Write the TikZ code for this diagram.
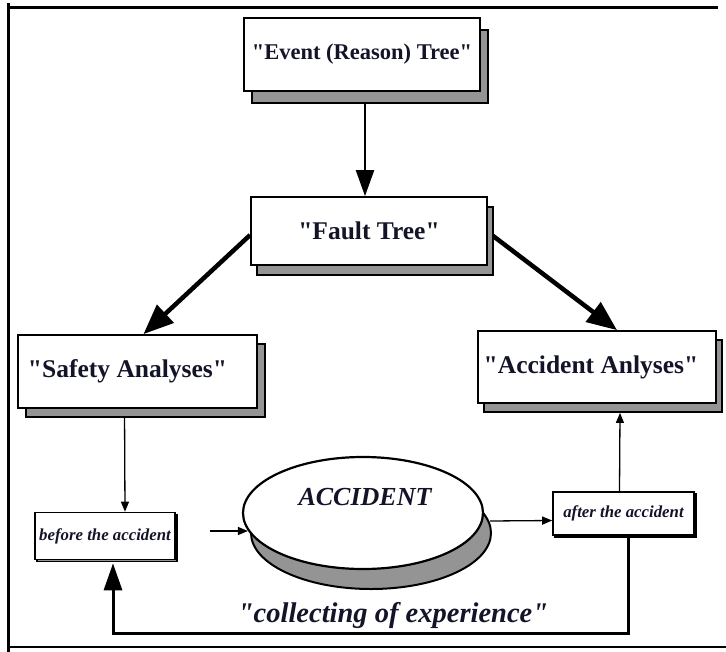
\documentclass[tikz,border=0pt]{standalone}
\usepackage{fontspec}
\setmainfont{Liberation Serif}[Ligatures=TeXOff]
\usetikzlibrary{arrows.meta,shapes.geometric,shadows,backgrounds}

\definecolor{inkdark}{rgb}{0.08,0.08,0.16}
\definecolor{shadegray}{gray}{0.58}

\tikzset{
  frameline/.style={line width=3pt, line cap=rect},
  titlebox/.style={draw, line width=1.8pt, fill=white, inner sep=0pt,
    text=inkdark, font=\bfseries\fontsize{25.5}{30}\selectfont},
  smallbox/.style={draw, line width=1.6pt, fill=white, inner sep=0pt,
    text=inkdark, font=\bfseries\itshape\fontsize{16.8}{20}\selectfont},
  boxshade/.style 2 args={copy shadow={shadow xshift=#1, shadow yshift=#2,
    fill=shadegray, draw=black, line width=1.2pt}},
  disc/.style={ellipse, draw, line width=2.2pt, fill=white, inner sep=0pt,
    copy shadow={shadow xshift=8pt, shadow yshift=-20pt, fill=shadegray,
      draw=black, line width=2pt}},
  italiclabel/.style={inner sep=0pt, text=inkdark, font=\bfseries\itshape},
  bigarrow/.style={line width=4.5pt, -{Triangle[length=30pt,width=24pt]}},
  midarrow/.style={line width=2.4pt, -{Triangle[length=26pt,width=18pt]}},
  loopline/.style={line width=3pt, -{Triangle[length=27pt,width=18pt]}},
  thinarrow/.style={line width=1.3pt, -{Triangle[length=10pt,width=8pt]}},
}

\begin{document}
\begin{tikzpicture}[x=1pt,y=-1pt]
  \useasboundingbox (0,0) rectangle (726,651);

  % outer frame (left, top, bottom)
  \draw[frameline] (8,4) -- (8,651);
  \draw[frameline] (8,7) -- (716,7);
  \draw[line width=2pt] (8,647) -- (726,647);

  % boxes of the upper tree
  \node[titlebox, boxshade={8pt}{-12pt}, minimum width=236pt, minimum height=73pt,
        font=\bfseries\fontsize{22.5}{27}\selectfont] (ev) at (362,54.5)
        {"Event (Reason) Tree"};
  \node[titlebox, boxshade={6pt}{-10pt}, minimum width=236pt, minimum height=68pt]
        (ft) at (369,231) {"Fault Tree"};
  \node[titlebox, boxshade={8pt}{-9pt}, minimum width=239pt, minimum height=73pt]
        (sa) at (137.5,371.5) {"Safety Analyses"\hspace*{20pt}};
  \node[titlebox, boxshade={6pt}{-9pt}, minimum width=238pt, minimum height=72pt]
        (aa) at (597,367) {\raisebox{4pt}{"Accident Anlyses"}\hspace*{12pt}};

  % the accident itself and the two time boxes
  \node[disc, minimum width=240pt, minimum height=112pt] (acc) at (363,513) {};
  \node[italiclabel, font=\bfseries\itshape\fontsize{26}{30}\selectfont]
        (acctext) at (365,497) {ACCIDENT};
  \node[smallbox, boxshade={2pt}{-2pt}, minimum width=140pt, minimum height=47pt]
        (bf) at (105,536) {before the accident};
  \node[smallbox, boxshade={2pt}{-2pt}, minimum width=141pt, minimum height=43pt]
        (af) at (623.5,513.5) {after the accident};

  \node[italiclabel, font=\bfseries\itshape\fontsize{28.5}{32}\selectfont]
        (exp) at (393,615) {"collecting of experience"};

  % connectors; the tree arrows start beneath the box shadows
  \begin{scope}[on background layer]
    \fill[white] (0,0) rectangle (726,651);
    \draw[midarrow] ([xshift=3pt]ev.south) -- ([xshift=-4pt]ft.north);
    \draw[bigarrow] ([yshift=-4pt]ft.west) -- ([xshift=6pt]sa.north);
    \draw[bigarrow] ([yshift=-1pt]ft.east) -- ([xshift=20pt]aa.north);
    \draw[thinarrow] ([xshift=-13pt]sa.south) -- ([xshift=20pt]bf.north);
    \draw[thinarrow] ([xshift=-4pt]af.north) -- ([xshift=23pt,yshift=-9pt]aa.south);
  \end{scope}
  \draw[thinarrow] ([xshift=34pt,yshift=5pt]bf.east) -- ([xshift=6pt,yshift=-18pt]acc.west);
  \draw[thinarrow] ([xshift=6pt,yshift=-8pt]acc.east) -- ([yshift=-7pt]af.west);
  \draw[loopline] ([xshift=5pt]af.south) -- ++(0,98)
        -| ([xshift=8pt,yshift=-3pt]bf.south);
\end{tikzpicture}
\end{document}
